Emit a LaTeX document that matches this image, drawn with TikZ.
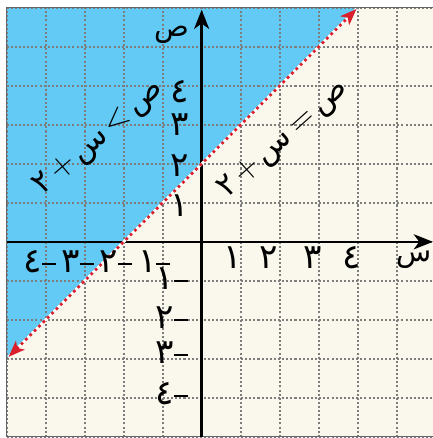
\documentclass[tikz,border=0pt]{standalone}
\usepackage{fontspec}
\newfontfamily\arabicfont[Script=Arabic]{DejaVu Sans}
\usetikzlibrary{arrows.meta}

\definecolor{skyfill}{RGB}{98,202,244}
\definecolor{paper}{RGB}{250,248,236}
\definecolor{gridgray}{RGB}{125,125,125}
\definecolor{linered}{RGB}{218,32,45}

\newcommand{\mns}{\rule[0.22em]{0.4em}{0.065em}}
\newcommand{\bigsym}[1]{{\fontsize{28}{30}\selectfont$#1$}}

\tikzset{
  gridline/.style={gridgray, line width=1.5pt, dash pattern=on 1.5pt off 1.5pt},
  axis/.style={line width=1.8pt, -{Stealth[length=14pt,width=11pt,inset=4pt]}},
  tick/.style={font=\fontsize{25}{27}\selectfont\arabicfont, inner sep=0pt},
  axlabel/.style={font=\fontsize{21}{23}\selectfont\arabicfont, inner sep=0pt},
  eqlabel/.style={font=\fontsize{23}{25}\selectfont\arabicfont, inner sep=0pt}
}

\begin{document}
\begin{tikzpicture}[scale=1]
      % \draw[help lines, gray!50, very thin] (-5,-5) grid (6,6);
      \useasboundingbox (-5.17,-5.03) rectangle (5.93,6.2);
      \clip (-5.17,-5.03) rectangle (5.93,6.2);
      \fill[white] (-5.17,-5.03) rectangle (5.93,6.2);

      % shaded half plane
      \fill[paper] (-5,-5) rectangle (6.5,6);
      \fill[skyfill] (-5,6) -- (-5,-3) -- (4,6) -- cycle;
      \draw[gridline] (-5,-5) grid (6.5,6);
      \draw[gridgray!80!black, line width=0.8pt] (-5,-5) rectangle (6.5,6);

      % axes
      \coordinate (xl) at (-5,0);
      \coordinate (xr) at (5.93,0);
      \coordinate (yb) at (0,-5);
      \coordinate (yt) at (0,5.95);
      \draw[axis] (xl) -- (xr);
      \draw[axis] (yb) -- (yt);
      \node[axlabel] (xlab) at (5.45,-0.47) {س};
      \node[axlabel] (ylab) at (-0.75,5.3) {ص};

      % boundary line
      \coordinate (la) at (-4.95,-2.95);
      \coordinate (lb) at (3.97,5.97);
      \draw[white, line width=2pt] (la) -- (lb);
      \draw[linered, line width=2pt, dash pattern=on 2pt off 2.5pt,
            {Stealth[length=12pt,width=9pt,inset=3pt]}-{Stealth[length=12pt,width=9pt,inset=3pt]}] (la) -- (lb);

      % numbers on the axes
      \node[tick] (x1) at (0.8,-0.4) {١};
      \node[tick] (x2) at (1.72,-0.4) {٢};
      \node[tick] (x3) at (2.85,-0.4) {٣};
      \node[tick] (x4) at (3.85,-0.4) {٤};
      \node[tick] (xm1) at (-1.22,-0.52) {١\mns};
      \node[tick] (xm2) at (-2.2,-0.52) {٢\mns};
      \node[tick] (xm3) at (-3.18,-0.52) {٣\mns};
      \node[tick] (xm4) at (-4.15,-0.52) {٤\mns};
      \node[tick] (y1) at (-0.56,0.92) {١};
      \node[tick] (y2) at (-0.56,1.95) {٢};
      \node[tick] (y3) at (-0.56,3.0) {٣};
      \node[tick] (y4) at (-0.56,3.85) {٤};
      \node[tick] (ym1) at (-0.76,-0.95) {١\mns};
      \node[tick] (ym2) at (-0.76,-1.95) {٢\mns};
      \node[tick] (ym3) at (-0.76,-2.85) {٣\mns};
      \node[tick] (ym4) at (-0.76,-3.9) {٤\mns};

      % relations
      \node[eqlabel, rotate=41] (ineq) at (-2.62,2.65) {٢\hspace{3pt}\bigsym{+}\hspace{3pt}س\hspace{3pt}\bigsym{<}\hspace{3pt}ص};
      \node[eqlabel, rotate=42] (eq) at (2.12,2.62) {٢\hspace{3pt}\bigsym{+}\hspace{3pt}س\hspace{5pt}\bigsym{=}\hspace{4pt}ص};
    \end{tikzpicture}
\end{document}
